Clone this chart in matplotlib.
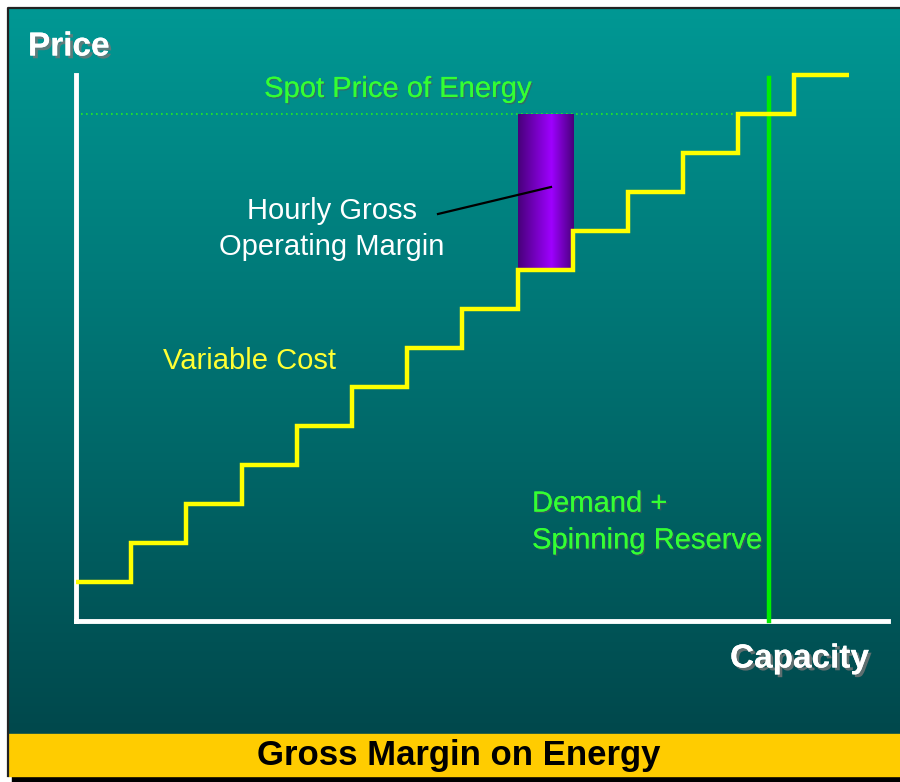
import matplotlib
matplotlib.use("Agg")
import matplotlib.pyplot as plt
import matplotlib.patheffects as pe
import numpy as np

# step supply curve: capacity edges and variable cost of each unit
cap_edges = [0, 1, 2, 3, 4, 5, 6, 7, 8, 9, 10, 11, 12, 13, 14]
var_cost = [1, 2, 3, 4, 5, 6, 7, 8, 9, 10, 11, 12, 13, 14]
spot_price = 13
spot_end = 12          # dotted spot-price line runs to the marginal unit
demand = 12.55         # demand + spinning reserve
margin_unit = 8        # unit whose hourly gross margin is shown

W, H = 900, 782
fig = plt.figure(figsize=(W / 100, H / 100), dpi=100)
fig.patch.set_facecolor("white")

# background axes in pixel coordinates
bg = fig.add_axes([0, 0, 1, 1])
bg.set_xlim(0, W)
bg.set_ylim(H, 0)
bg.axis("off")

# black shadow + border of the slide
bg.add_patch(plt.Rectangle((12, 10), W, 772, color="black", zorder=0))
grad = np.linspace(0, 1, 256).reshape(-1, 1)
top = np.array([0, 152, 148]) / 255
bot = np.array([0, 72, 76]) / 255
img = top + (bot - top) * grad[:, :, None]
bg.imshow(img, extent=[8, W, 734, 8], aspect="auto", zorder=1)
bg.add_patch(plt.Rectangle((8, 734), W, 42, color="#ffcc00", zorder=1))
bg.plot([7.5, 7.5, W], [776, 7.5, 7.5], color="#222222", lw=1.6, zorder=2)

shadow = [pe.withSimplePatchShadow(offset=(2, -2), shadow_rgbFace="#777777", alpha=0.8), pe.Normal()]
small_shadow = [pe.withSimplePatchShadow(offset=(1, -1), shadow_rgbFace="#555555", alpha=0.6), pe.Normal()]
fam = ["Liberation Sans", "DejaVu Sans"]

bg.text(28, 47, "Price", color="white", fontsize=24, fontweight="bold", family=fam,
        va="center", ha="left", path_effects=shadow, zorder=5)
bg.text(730, 659, "Capacity", color="white", fontsize=24, fontweight="bold", family=fam,
        va="center", ha="left", path_effects=shadow, zorder=5)
bg.text(398, 89, "Spot Price of Energy", color="#33ff33", fontsize=21, family=fam,
        va="center", ha="center", path_effects=small_shadow, zorder=5)
bg.text(332, 229, "Hourly Gross\nOperating Margin", color="white", fontsize=21, family=fam,
        va="center", ha="center", linespacing=1.35, zorder=5)
bg.text(163, 361, "Variable Cost", color="#ffff33", fontsize=21, family=fam,
        va="center", ha="left", zorder=5)
bg.text(532, 522, "Demand +\nSpinning Reserve", color="#33ff33", fontsize=21, family=fam,
        va="center", ha="left", linespacing=1.4, path_effects=small_shadow, zorder=5)
bg.text(459, 755, "Gross Margin on Energy", color="black", fontsize=25, fontweight="bold",
        family=["Liberation Sans Narrow", "Liberation Sans", "DejaVu Sans"],
        va="center", ha="center", zorder=5)

# chart axes
x0, x1, y0, y1 = 76, 888, 621, 75
ax = fig.add_axes([x0 / W, (H - y0) / H, (x1 - x0) / W, (y0 - y1) / H])
ax.set_facecolor("none")
ax.set_xlim(0, (x1 - x0) / 55.2)
ax.set_ylim(0, 14)
for s in ["top", "right"]:
    ax.spines[s].set_visible(False)
for s in ["left", "bottom"]:
    ax.spines[s].set_color("white")
    ax.spines[s].set_linewidth(3.5)
    ax.spines[s].set_capstyle("projecting")
ax.set_xticks([])
ax.set_yticks([])

# spot price dotted line
ax.plot([0, spot_end], [spot_price, spot_price], color="#22ee22", lw=1.2,
        linestyle=(0, (1, 2)), zorder=2)

# gross margin bar with horizontal gradient
g = np.linspace(0, 1, 200)
prof = np.interp(g, [0, 0.6, 1], [0.0, 1.0, 0.0])
dark = np.array([0.28, 0.0, 0.48])
bright = np.array([0.62, 0.0, 1.0])
bar = dark + (bright - dark) * prof[:, None]
ax.imshow(bar[None, :, :], extent=[cap_edges[margin_unit], cap_edges[margin_unit + 1],
                                    var_cost[margin_unit], spot_price],
          aspect="auto", zorder=3)

# variable cost steps
ax.stairs(var_cost, cap_edges, baseline=None, color="#ffff00", lw=3.2, zorder=4,
          clip_on=False)

# demand line
ax.plot([demand, demand], [0, 13.92], color="#00ee00", lw=3.2, zorder=3, clip_on=False)

# annotation pointer (pixel coordinates, drawn above the bar)
ax.plot([438, 551], [214, 187], color="black", lw=1.6, zorder=6,
        transform=bg.transData, clip_on=False)

fig.savefig("out.png", dpi=100)
